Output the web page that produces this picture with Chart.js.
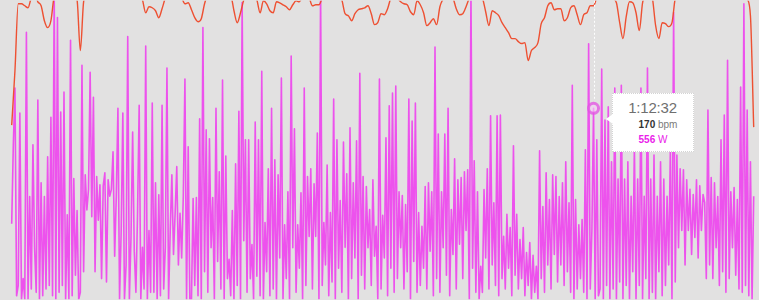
<!DOCTYPE html>
<html>
<head>
<meta charset="utf-8">
<script src="https://cdn.jsdelivr.net/npm/chart.js@4/dist/chart.umd.min.js"></script>
<style>
  html, body { margin: 0; padding: 0; background: #e2e1e1; overflow: hidden; }
  #wrap { position: relative; width: 759px; height: 300px; }
  canvas { display: block; }
  #tt {
    position: absolute; display: none; width: 80px; height: 57px;
    background: #ffffff; border: 1px dotted #d4d4d4;
    font-family: "Liberation Sans", Arial, Helvetica, sans-serif;
    pointer-events: none;
  }
  #tt .caret {
    position: absolute; left: -7px; top: 20px; width: 0; height: 0;
    border-top: 5px solid transparent; border-bottom: 5px solid transparent;
    border-right: 7px solid #ffffff;
  }
  #tt .title {
    position: absolute; left: 0; right: 0; top: 5px; text-align: center;
    font-size: 15px; line-height: 18px; color: #6f6f6f; letter-spacing: -0.2px;
  }
  #tt .row {
    position: absolute; left: 26px; font-size: 10px; line-height: 14px; white-space: nowrap;
  }
  #tt .r1 { top: 24px; }
  #tt .r2 { top: 39px; }
  #tt b { font-weight: bold; }
</style>
</head>
<body>
<div id="wrap">
  <canvas id="c" width="759" height="300"></canvas>
  <div id="tt"><div class="caret"></div><div class="title"></div><div class="row r1"></div><div class="row r2"></div></div>
</div>
<script>
// ---- time axis (seconds) ----
const timeMax = 5561;          // full width of the plot in seconds
const sampleStart = 80;        // first sample time (s)
const powerStep = 12;          // power sample interval (s)
const hrStep = 24;             // heart-rate sample interval (s)
const activeTime = 4352;       // hovered time 1:12:32

// ---- heart rate (bpm) ----
const heartRate = [
  140,153.75,170.5,170.5,170,169.5,172,173,171,170,
  166.25,164.5,166.25,172.5,174,174,174,174,174,173,
  171.5,158.75,171,173,174,175,175,174,174,175,
  175,174,174,175,174,174,175,174,173,173,
  171.5,168.25,169.75,169.5,168.75,167,169.25,172,174,174,
  174,173,172,170.5,170.75,169,167,166,166.75,170.5,
  173,174,175,175,174,175,174,173,168.75,165.75,
  168.25,171.5,173.5,174,173,171.5,168.25,171.25,170.5,168.75,
  168.25,171,170.75,170.25,169.75,169,170.25,171.25,171,172.5,
  173,172,170,170.25,170.25,172,174,174,175,174,
  173,171.5,168,167.5,166.25,168,169,169.25,169.5,170,
  168,165.25,165.75,168,167.75,169.25,172,173,172,171,
  170.5,170.25,168.5,167.75,171.25,170.25,168.25,165,165.75,166.75,
  165.25,169.75,171.75,173,173,172,169.25,167.75,168,169.75,
  172,174,174,173,172,168.5,165,168.75,168.25,167.5,
  165.75,164.5,163.25,161.75,161.75,161,160.5,160.75,156.25,158.75,
  159.5,160.75,165.5,167,170,170.75,169,169.25,169.25,166.25,
  167,169.5,170,167.75,165.25,167.75,168.25,170,170,172,
  173,173,173,172.5,171.75,170.75,165.75,161.75,167.25,171,
  170.75,168.25,163.75,170.75,173,174,172,165,161.75,165.75,
  165.5,164.75,165.75,172,174,175,175,174,174,175,
  174,173,174,175,175,174,174,173,174,174,
  173,174,175,174,173,171.75,167.5,139.5
];

// ---- power (W) ----
const powerWatts = [
  220,450,615,10,40,542,0,60,0,777,
  0,299,30,450,150,20,580,0,339,10,
  299,30,415,40,530,10,900,0,820,20,
  545,40,603,0,246,0,754,10,351,70,
  258,0,20,681,80,362,260,320,661,240,
  588,80,357,230,333,60,330,368,50,348,
  300,320,429,125,300,556,0,200,542,0,
  100,765,0,180,487,140,20,250,565,0,
  151,30,737,0,200,20,571,20,339,0,
  304,10,565,30,150,673,0,200,362,130,
  250,386,100,250,120,300,641,0,444,0,
  0,293,40,296,10,525,0,791,80,493,
  20,467,150,296,0,556,110,371,30,638,
  0,417,60,116,10,258,0,394,40,547,
  0,864,170,464,20,464,60,159,0,516,
  67,464,10,664,0,223,80,380,10,556,
  30,406,0,362,120,644,0,217,60,313,
  0,708,150,496,20,217,90,310,0,615,
  40,357,183,380,30,336,183,484,0,900,
  40,223,100,391,10,252,50,583,0,464,
  90,287,20,458,151,365,0,499,60,339,
  120,461,0,658,70,357,30,328,150,261,
  40,348,125,212,0,641,
  30,244,120,470,10,563,90,600,20,621,
  60,313,150,302,30,276,80,583,0,519,
  110,571,20,252,40,212,90,328,30,339,
  140,313,10,734,60,481,20,313,150,481,
  70,556,10,261,130,409,30,348,160,354,
  60,371,200,377,0,900,90,403,20,313,
  0,96,20,319,120,380,30,534,100,281,
  40,534,10,536,60,183,30,247,90,209,
  10,447,70,247,30,174,60,209,10,136,
  40,165,0,128,20,96,0,432,60,270,
  20,368,100,290,30,362,130,357,50,299,
  100,339,40,400,80,281,
  20,623,0,290,30,217,60,232,20,435,
  0,744,30,200,556,0,464,10,30,670,
  0,522,40,560,0,400,30,615,0,350,
  50,623,0,350,40,400,0,300,80,450,
  0,350,40,615,0,300,60,673,0,350,
  20,420,0,300,80,400,10,350,40,300,
  100,435,0,835,50,420,150,380,200,377,
  100,348,200,320,130,305,180,348,120,330,
  200,305,281,60,551,100,354,60,339,150,
  299,40,464,80,536,20,696,60,313,150,
  325,70,290,30,618,20,860,40,551,10,
  400,0,300
];

const units = ['bpm', 'W'];

const hrData = heartRate.map((v, j) => ({ x: sampleStart + j * hrStep, y: v }));
const pwData = powerWatts.map((v, i) => ({ x: sampleStart + i * powerStep, y: v }));

function fmtTime(s) {
  const h = Math.floor(s / 3600), m = Math.floor((s % 3600) / 60), sec = Math.round(s % 60);
  return h + ':' + String(m).padStart(2, '0') + ':' + String(sec).padStart(2, '0');
}

function externalTooltip(context) {
  const { tooltip } = context;
  const el = document.getElementById('tt');
  const pts = tooltip.dataPoints || [];
  if (!pts.length) { el.style.display = 'none'; return; }
  const hr = pts.find(p => p.datasetIndex === 0);
  const pw = pts.find(p => p.datasetIndex === 1);
  el.querySelector('.title').textContent = fmtTime(pw.parsed.x);
  el.querySelector('.r1').innerHTML = '<b style="color:#333">' + Math.round(hr.parsed.y) + '</b> <span style="color:#7a7a7a">' + units[0] + '</span>';
  el.querySelector('.r2').innerHTML = '<b style="color:#ea22ea">' + Math.round(pw.parsed.y) + '</b> <span style="color:#ea22ea">' + units[1] + '</span>';
  el.style.left = (pw.element.x + 18) + 'px';
  el.style.top = (pw.element.y - 15) + 'px';
  el.style.display = 'block';
}

const cursorLine = {
  id: 'cursorLine',
  afterDatasetsDraw(chart) {
    const act = chart.getActiveElements().find(a => a.datasetIndex === 1);
    if (!act) return;
    const { ctx, chartArea } = chart;
    const x = Math.round(act.element.x) + 0.5;
    ctx.save();
    ctx.strokeStyle = 'rgba(255,255,255,0.95)';
    ctx.lineWidth = 1;
    ctx.setLineDash([2, 2]);
    ctx.beginPath();
    ctx.moveTo(x, chartArea.top);
    ctx.lineTo(x, act.element.y - 8);
    ctx.stroke();
    ctx.restore();
  }
};

const chart = new Chart(document.getElementById('c'), {
  type: 'line',
  data: {
    datasets: [
      {
        label: 'Heart rate',
        data: hrData,
        yAxisID: 'yH',
        borderColor: 'rgba(238, 72, 40, 0.95)',
        borderWidth: 1.4,
        pointRadius: 0,
        pointHoverRadius: 0,
        tension: 0.25,
        cubicInterpolationMode: 'monotone',
        borderJoinStyle: 'round'
      },
      {
        label: 'Power',
        data: pwData,
        yAxisID: 'yP',
        borderColor: 'rgba(240, 34, 240, 0.75)',
        borderWidth: 1.6,
        pointRadius: 0,
        pointHoverRadius: 5,
        pointHoverBorderWidth: 3,
        pointHoverBorderColor: 'rgba(226, 80, 226, 0.75)',
        pointHoverBackgroundColor: 'rgba(245, 205, 245, 0.6)',
        tension: 0,
        borderJoinStyle: 'round'
      }
    ]
  },
  options: {
    responsive: false,
    animation: false,
    devicePixelRatio: 1,
    events: [],
    layout: { padding: 0 },
    interaction: { mode: 'x', intersect: false },
    scales: {
      x: { type: 'linear', min: 0, max: timeMax, display: false },
      yP: { type: 'linear', min: 0, max: 869, display: false },
      yH: { type: 'linear', min: 96.25, max: 171.25, display: false }
    },
    plugins: {
      legend: { display: false },
      title: { display: false },
      tooltip: { enabled: false, external: externalTooltip }
    }
  },
  plugins: [cursorLine]
});

const hrIdx = hrData.findIndex(p => p.x === activeTime);
const pwIdx = pwData.findIndex(p => p.x === activeTime);
const active = [{ datasetIndex: 0, index: hrIdx }, { datasetIndex: 1, index: pwIdx }];
chart.setActiveElements(active);
chart.update();
const el = chart.getDatasetMeta(1).data[pwIdx];
chart.tooltip.setActiveElements(active, { x: el.x, y: el.y });
</script>
</body>
</html>
